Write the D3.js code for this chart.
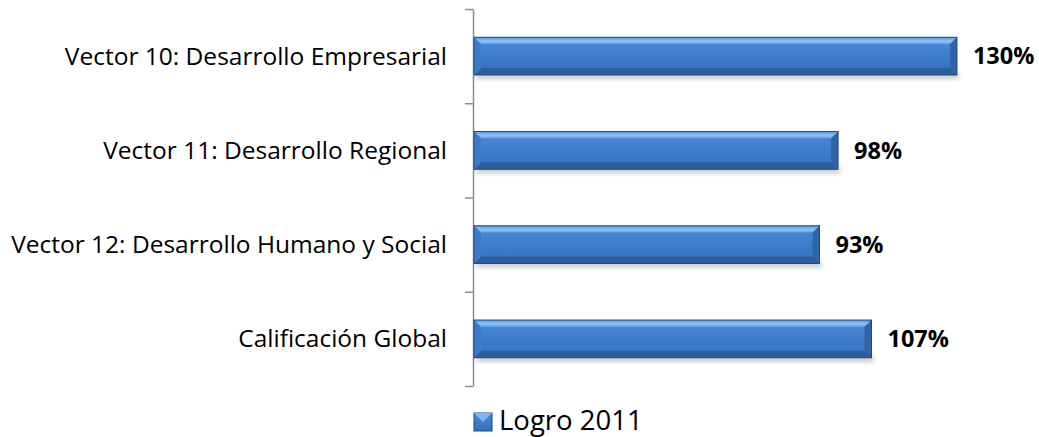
<!DOCTYPE html>
<html><head><meta charset="utf-8">
<script src="https://cdn.jsdelivr.net/npm/d3@7"></script>
<style>
html,body{margin:0;padding:0;background:#fff;}
svg{display:block;font-family:"Open Sans","Noto Sans",sans-serif;}
</style></head>
<body><svg id="chart" width="1039" height="437"></svg>
<script>
const categories = ["Vector 10: Desarrollo Empresarial","Vector 11: Desarrollo Regional","Vector 12: Desarrollo Humano y Social","Calificación Global"];
const values = [130, 98, 93, 107];
const seriesName = "Logro 2011";

const svg = d3.select("#chart");
const defs = svg.append("defs");
const g1 = defs.append("linearGradient").attr("id","face").attr("x1",0).attr("y1",0).attr("x2",0).attr("y2",1);
g1.append("stop").attr("offset","0%").attr("stop-color","#4b8bd8");
g1.append("stop").attr("offset","50%").attr("stop-color","#3e7dcb");
g1.append("stop").attr("offset","100%").attr("stop-color","#356fba");
const gt = defs.append("linearGradient").attr("id","topb").attr("x1",0).attr("y1",0).attr("x2",0).attr("y2",1);
gt.append("stop").attr("offset","0%").attr("stop-color","#5c9de6");
gt.append("stop").attr("offset","60%").attr("stop-color","#8ec3f3");
gt.append("stop").attr("offset","100%").attr("stop-color","#5a98de");
const flt = defs.append("filter").attr("id","shadow").attr("x","-5%").attr("y","-50%").attr("width","110%").attr("height","200%");
flt.append("feGaussianBlur").attr("stdDeviation",2.5);

const x0 = 474, yTop = 9, yBot = 386;
const x = d3.scaleLinear().domain([0, 100]).range([x0, x0 + 371.5]);
const y = d3.scaleBand().domain(categories).range([yTop, yBot]).paddingInner(0.6).paddingOuter(0.3);
const yIdx = d3.scaleLinear().domain([0, categories.length]).range([yTop, yBot]);

// axis
const ax = svg.append("g").attr("transform", `translate(${x0-1},0)`)
  .call(d3.axisLeft(yIdx).tickValues(d3.range(categories.length+1)).tickFormat("").tickSize(8).tickSizeOuter(0));
ax.selectAll("path,line").attr("stroke","#8c8c8c").attr("stroke-width",1.5);

const bh = y.bandwidth(), bv = 7;
const bars = svg.append("g").selectAll("g").data(categories).join("g");
// shadow
bars.append("rect").attr("x", x(0)+2).attr("y", d => y(d)+bh-2).attr("width", (d,i) => x(values[i])-x(0)).attr("height", 6)
  .attr("fill","#000").attr("opacity",0.22).attr("filter","url(#shadow)");
bars.append("rect").attr("x", x(0)).attr("y", d => y(d)).attr("width", (d,i) => x(values[i])-x(0)).attr("height", bh)
  .attr("fill","url(#face)");
// bevels
bars.append("polygon").attr("points",(d,i)=>{const a=x(0),b=x(values[i]),t=y(d);return `${a},${t} ${b},${t} ${b-bv},${t+bv} ${a+bv},${t+bv}`;}).attr("fill","url(#topb)");
bars.append("polygon").attr("points",(d,i)=>{const a=x(0),b=x(values[i]),t=y(d)+bh;return `${a},${t} ${b},${t} ${b-bv},${t-bv} ${a+bv},${t-bv}`;}).attr("fill","#2c5f9f");
bars.append("polygon").attr("points",(d,i)=>{const a=x(0),t=y(d);return `${a},${t} ${a+bv},${t+bv} ${a+bv},${t+bh-bv} ${a},${t+bh}`;}).attr("fill","#3a7ccd");
bars.append("polygon").attr("points",(d,i)=>{const b=x(values[i]),t=y(d);return `${b},${t} ${b-bv},${t+bv} ${b-bv},${t+bh-bv} ${b},${t+bh}`;}).attr("fill","#2f65a8");
bars.append("rect").attr("x", x(0)).attr("y", d => y(d)).attr("width", (d,i) => x(values[i])-x(0)).attr("height", bh)
  .attr("fill","none").attr("stroke","#22487c").attr("stroke-width",1);

// category labels
svg.append("g").selectAll("text").data(categories).join("text")
  .attr("x", 447).attr("y", d => y(d)+bh/2).attr("dy","0.35em").attr("text-anchor","end")
  .attr("font-size",24.5).attr("fill","#000").text(d=>d);
// value labels
svg.append("g").selectAll("text").data(categories).join("text")
  .attr("x", (d,i)=>x(values[i])+16).attr("y", d => y(d)+bh/2).attr("dy","0.35em")
  .attr("font-size",23.5).attr("font-weight","bold").attr("fill","#000").text((d,i)=>values[i]+"%");

// legend
const lg = svg.append("g");
lg.append("rect").attr("x",474).attr("y",413).attr("width",18).attr("height",18).attr("fill","url(#face)").attr("stroke","#22487c");
lg.append("polygon").attr("points","474,413 492,413 483,422").attr("fill","#7fb6ee");
lg.append("text").attr("x",499).attr("y",430).attr("font-size",27.5).attr("fill","#000").text(seriesName);
</script></body></html>
